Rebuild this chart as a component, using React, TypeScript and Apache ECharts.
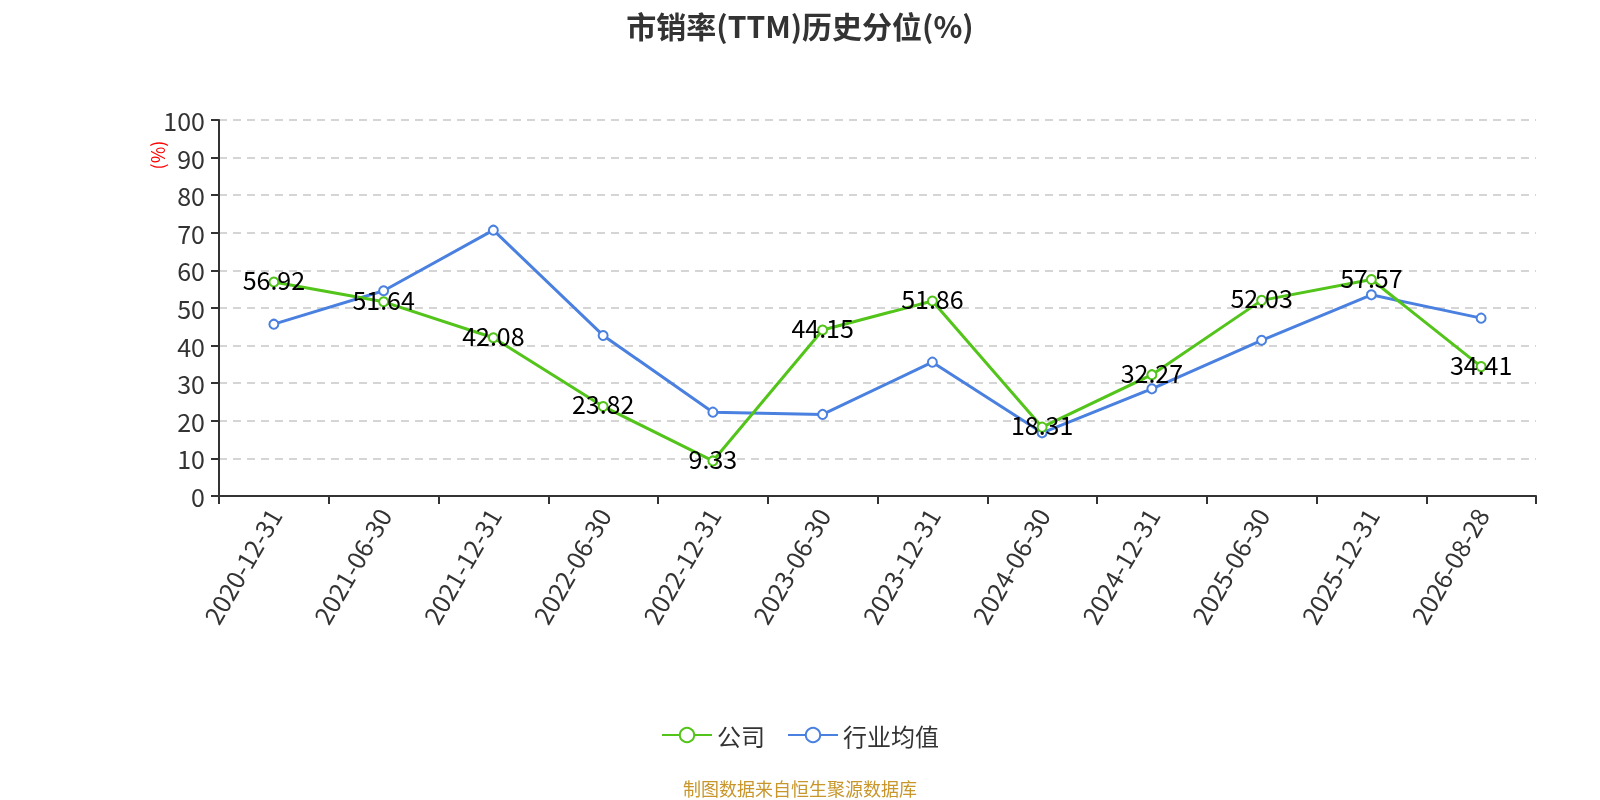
import React, { useEffect, useRef } from "react";
import * as echarts from "echarts";

const categories = [
  "2020-12-31", "2021-06-30", "2021-12-31", "2022-06-30", "2022-12-31", "2023-06-30",
  "2023-12-31", "2024-06-30", "2024-12-31", "2025-06-30", "2025-12-31", "2026-08-28",
];
const companyValues = [56.92, 51.64, 42.08, 23.82, 9.33, 44.15, 51.86, 18.31, 32.27, 52.03, 57.57, 34.41];
const industryValues = [45.7, 54.6, 70.7, 42.7, 22.3, 21.7, 35.6, 16.8, 28.5, 41.4, 53.5, 47.3];
const yTicks = { min: 0, max: 100, interval: 10 };

export default function App() {
  const ref = useRef<HTMLDivElement>(null);
  useEffect(() => {
    const chart = echarts.init(ref.current!, null, { renderer: "svg" });
    const font = "'Microsoft YaHei', 'Noto Sans CJK SC', 'Noto Sans', sans-serif";
    chart.setOption({
      animation: false,
      textStyle: { fontFamily: font },
      title: {
        text: "市销率(TTM)历史分位(%)",
        left: "center",
        top: 5,
        textStyle: { fontSize: 30, fontWeight: "bold", color: "#333", fontFamily: font },
      },
      grid: { left: 219, right: 64, top: 120, bottom: 304 },
      legend: {
        top: 718,
        left: "center",
        itemWidth: 50,
        itemHeight: 18,
        itemGap: 22,
        textStyle: { fontSize: 24, color: "#333" },
        data: ["公司", "行业均值"],
      },
      graphic: [
        {
          type: "text",
          left: "center",
          top: 779,
          style: { text: "制图数据来自恒生聚源数据库", fill: "#c8962a", fontSize: 18, fontFamily: font },
        },
        {
          type: "text",
          x: 157,
          y: 155,
          rotation: Math.PI / 2,
          style: {
            text: "(%)",
            fill: "red",
            fontSize: 18,
            fontFamily: font,
            align: "center",
            verticalAlign: "middle",
          },
        },
      ],
      xAxis: {
        type: "category",
        data: categories,
        boundaryGap: true,
        axisLine: { lineStyle: { color: "#333", width: 2 } },
        axisTick: { show: true, length: 8, lineStyle: { color: "#333", width: 2 } },
        axisLabel: { rotate: 60, fontSize: 25, color: "#333", margin: 14 },
      },
      yAxis: {
        type: "value",
        min: yTicks.min,
        max: yTicks.max,
        interval: yTicks.interval,
        axisLine: { show: true, lineStyle: { color: "#333", width: 2 } },
        axisTick: { show: true, length: 8, lineStyle: { color: "#333", width: 2 } },
        axisLabel: { fontSize: 25, color: "#333", margin: 14 },
        splitLine: { lineStyle: { type: [8, 6], color: "#c8c8c8", width: 1.5 } },
      },
      series: [
        {
          name: "公司",
          type: "line",
          data: companyValues,
          symbol: "emptyCircle",
          symbolSize: 9,
          itemStyle: { color: "#52c41a" },
          lineStyle: { width: 3, color: "#52c41a" },
          label: {
            show: true,
            position: "inside",
            offset: [0, -3],
            fontSize: 25,
            color: "#000",
            fontFamily: font,
          },
          z: 3,
        },
        {
          name: "行业均值",
          type: "line",
          data: industryValues,
          symbol: "emptyCircle",
          symbolSize: 9,
          itemStyle: { color: "#4a80e0" },
          lineStyle: { width: 3, color: "#4a80e0" },
          z: 2,
        },
      ],
    });
    return () => chart.dispose();
  }, []);
  return <div ref={ref} style={{ position: "fixed", left: 0, top: 0, width: 1600, height: 800 }} />;
}
